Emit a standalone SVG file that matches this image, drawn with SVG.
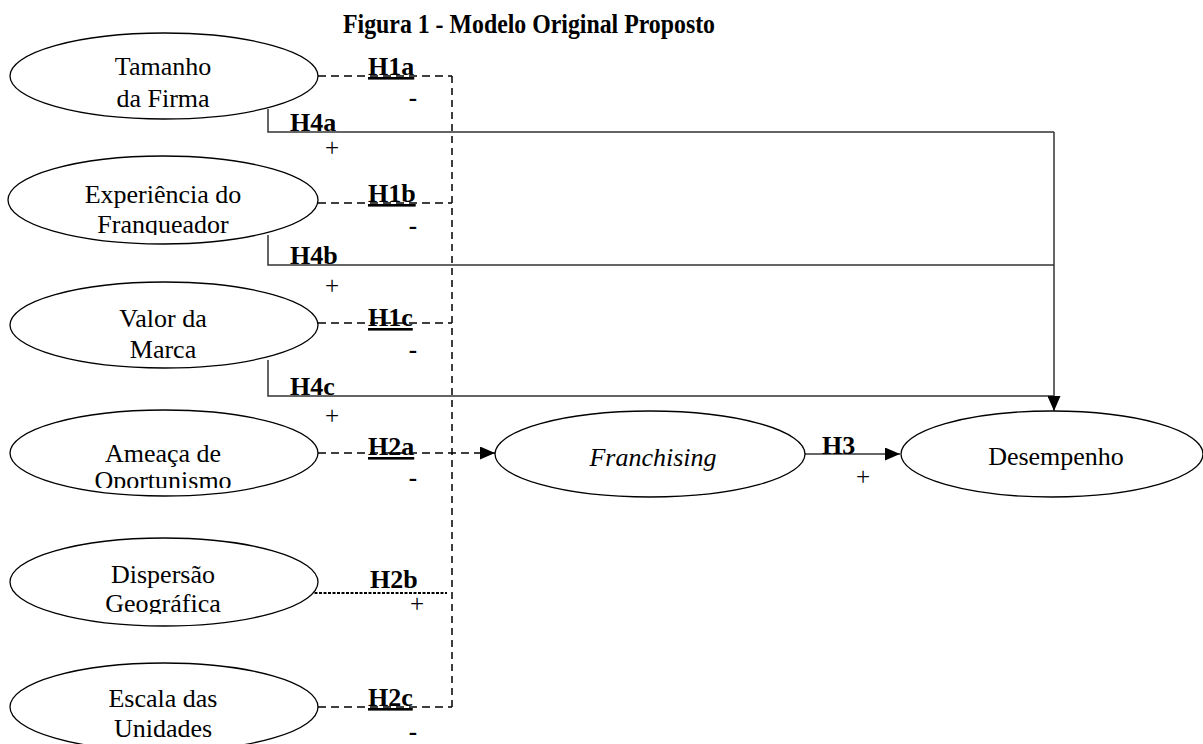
<svg xmlns="http://www.w3.org/2000/svg" width="1203" height="744" viewBox="0 0 1203 744">
<style>
.node{fill:#fff;stroke:#000;stroke-width:1.3}
.nt{font-family:"Liberation Serif","Times New Roman",serif;font-size:26px;text-anchor:middle;fill:#000}
.lb{font-family:"Liberation Serif","Times New Roman",serif;font-size:26px;font-weight:bold;fill:#000}
.ul{text-decoration:underline}
.sg{font-family:"Liberation Serif","Times New Roman",serif;font-size:25px;fill:#000;text-anchor:middle}
.sgb{font-family:"Liberation Serif","Times New Roman",serif;font-size:25px;font-weight:bold;fill:#000;text-anchor:middle}
.dash{fill:none;stroke:#000;stroke-width:1.5;stroke-dasharray:8 5}
.vdash{fill:none;stroke:#000;stroke-width:1.5;stroke-dasharray:7 5}
.fine{fill:none;stroke:#000;stroke-width:2;stroke-dasharray:3 1.5}
.solid{fill:none;stroke:#333;stroke-width:1.5}
.title{font-family:"Liberation Serif","Times New Roman",serif;font-size:27px;font-weight:bold;fill:#000}
</style>
<defs>
<marker id="arr" viewBox="0 0 15 13" refX="15" refY="6.5" markerWidth="15" markerHeight="13" markerUnits="userSpaceOnUse" orient="auto">
<path d="M0,0 L15,6.5 L0,13 z" fill="#000"/>
</marker>
<clipPath id="c2"><rect x="0" y="150" width="340" height="85"/></clipPath>
<clipPath id="c4"><rect x="0" y="400" width="340" height="88"/></clipPath>
<clipPath id="c5"><rect x="0" y="530" width="340" height="84"/></clipPath>
</defs>
<rect width="1203" height="744" fill="#fff"/>
<text class="title" x="343" y="33" textLength="372" lengthAdjust="spacingAndGlyphs">Figura 1 - Modelo Original Proposto</text>

<g id="connectors">
<path class="dash" d="M318,76 H452"/>
<path class="dash" d="M318,203 H452"/>
<path class="dash" d="M318,323 H452"/>
<path class="fine" d="M310,593 H447"/>
<path class="dash" d="M318,707 H452"/>
<path class="vdash" d="M452,76 V707"/>
<path class="dash" d="M318,453 H495" marker-end="url(#arr)"/>
<path class="solid" d="M268,109 V132 H1054"/>
<path class="solid" d="M268,235 V265 H1054"/>
<path class="solid" d="M268,360 V396 H1054"/>
<path class="solid" d="M1054,132 V411" stroke="#000" marker-end="url(#arr)"/>
<path class="solid" d="M805,454 H900" stroke="#000" marker-end="url(#arr)"/>
<text class="lb ul" x="368" y="75">H1a</text>
<text class="sgb" x="413" y="106">-</text>
<text class="lb" x="290" y="131">H4a</text>
<text class="sg" x="332" y="156">+</text>
<text class="lb ul" x="368" y="202">H1b</text>
<text class="sgb" x="413" y="234">-</text>
<text class="lb" x="290" y="264">H4b</text>
<text class="sg" x="332" y="294">+</text>
<text class="lb ul" x="368" y="326">H1c</text>
<text class="sgb" x="413" y="358">-</text>
<text class="lb" x="290" y="395">H4c</text>
<text class="sg" x="332" y="424">+</text>
<text class="lb ul" x="368" y="455">H2a</text>
<text class="sgb" x="413" y="486">-</text>
<text class="lb" x="370" y="588">H2b</text>
<text class="sg" x="417" y="612">+</text>
<text class="lb ul" x="368" y="706">H2c</text>
<text class="sgb" x="413" y="740">-</text>
<text class="lb" x="822" y="454" font-size="24">H3</text>
<text class="sg" x="863" y="485">+</text>
</g>

<g id="n-tamanho">
<ellipse class="node" cx="164" cy="76" rx="154" ry="43"/>
<text class="nt" x="163" y="75">Tamanho</text>
<text class="nt" x="163" y="107">da Firma</text>
</g>
<g id="n-experiencia">
<ellipse class="node" cx="163" cy="200" rx="155" ry="44"/>
<text class="nt" x="163" y="203">Experiência do</text>
<text class="nt" x="163" y="233" clip-path="url(#c2)">Franqueador</text>
</g>
<g id="n-valor">
<ellipse class="node" cx="164" cy="325" rx="154" ry="43"/>
<text class="nt" x="163" y="327">Valor da</text>
<text class="nt" x="163" y="358">Marca</text>
</g>
<g id="n-ameaca">
<ellipse class="node" cx="164" cy="453" rx="154" ry="43"/>
<text class="nt" x="163" y="462">Ameaça de</text>
<text class="nt" x="163" y="489" clip-path="url(#c4)">Oportunismo</text>
</g>
<g id="n-dispersao">
<ellipse class="node" cx="164" cy="582" rx="154" ry="44"/>
<text class="nt" x="163" y="583">Dispersão</text>
<text class="nt" x="163" y="612" clip-path="url(#c5)">Geográfica</text>
</g>
<g id="n-escala">
<ellipse class="node" cx="164" cy="707" rx="154" ry="44"/>
<text class="nt" x="163" y="707">Escala das</text>
<text class="nt" x="163" y="737">Unidades</text>
</g>
<g id="n-franchising">
<ellipse class="node" cx="650" cy="454" rx="155" ry="43"/>
<text class="nt" x="653" y="466" font-style="italic">Franchising</text>
</g>
<g id="n-desempenho">
<ellipse class="node" cx="1052" cy="454" rx="151" ry="43"/>
<text class="nt" x="1056" y="465">Desempenho</text>
</g>
</svg>
